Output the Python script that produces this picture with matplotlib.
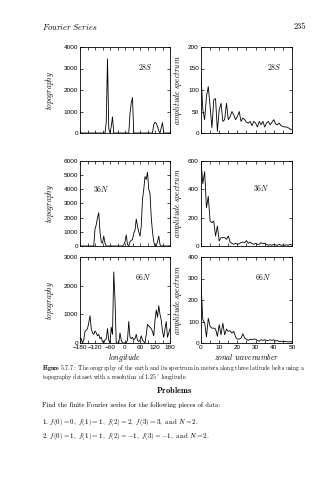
import numpy as np
import matplotlib
matplotlib.use("Agg")
import matplotlib.pyplot as plt

plt.rcParams['mathtext.fontset'] = 'cm'
plt.rcParams['axes.unicode_minus'] = True

W, H = 335, 480

# longitudes every 5 degrees, wavenumbers 0..50
lon = np.arange(-180, 185, 5)
wave = np.arange(0, 51)

topo_28s = [0] * 21 + [500, 3450, 200, 0, 300, 750, 0] + [0] * 11 + \
    [0, 900, 1400, 1650, 0] + [0] * 15 + \
    [400, 500, 450, 300, 100, 0, 250, 480, 0] + [0] * 5

topo_36n = [0] * 12 + [1200, 1500, 2000, 2350, 1000, 300, 200, 700, 200, 0] + [0] * 13 + \
    [100, 300, 780, 100, 0, 300, 400, 450, 900, 1100, 1900, 1400, 1000, 700,
     1400, 3300, 4000, 4900, 4700, 5200, 4000, 3700, 2000, 1000, 300, 0, 0, 300, 700, 100] + [0] * 8

topo_66n = [200, 150, 0, 100, 400, 450, 500, 700, 950, 500, 350, 300, 420, 350, 250, 300,
            150, 200, 50, 0, 100, 150, 500, 100, 0, 550, 300, 2480, 1500, 0, 0, 0, 350, 100,
            0, 0, 0, 0, 100, 750, 200, 150, 200, 100, 150, 300, 100, 50, 100, 250, 100, 50,
            0, 300, 650, 600, 550, 500, 400, 250, 800, 1150, 900, 1300, 1000, 800, 400, 200,
            500, 750, 200, 350, 500]

spec_28s = [135, 54, 31, 85, 108, 62, 12, 77, 80, 4, 54, 69, 27, 31, 69, 31, 38, 50, 42, 31,
            38, 50, 27, 35, 31, 25, 23, 27, 17, 27, 23, 14, 27, 19, 27, 14, 23, 27, 19, 25,
            31, 21, 19, 23, 17, 15, 14, 14, 12, 9, 8]

spec_36n = [600, 440, 525, 270, 350, 176, 165, 176, 70, 141, 35, 59, 59, 59, 47, 70, 28, 19,
            12, 19, 12, 16, 24, 28, 24, 38, 19, 28, 16, 12, 19, 12, 12, 24, 16, 19, 12, 5, 9,
            5, 12, 7, 5, 12, 5, 7, 5, 9, 5, 12, 5]

spec_66n = [280, 108, 95, 28, 115, 77, 69, 69, 65, 31, 85, 38, 92, 38, 65, 54, 57, 46, 54, 28,
            18, 18, 23, 43, 23, 18, 12, 18, 15, 18, 18, 12, 8, 15, 12, 15, 12, 12, 15, 12,
            15, 9, 12, 6, 9, 6, 8, 6, 5, 6, 5]

rows = [
    ('28S', topo_28s, spec_28s, 4000, 1000, 200, 50, (47, 133)),
    ('36N', topo_36n, spec_36n, 6000, 1000, 600, 200, (161, 246)),
    ('66N', topo_66n, spec_66n, 3000, 1000, 400, 100, (257, 343)),
]
lab_pos_left = {'28S': (0.72, 0.77), '36N': (0.23, 0.67), '66N': (0.70, 0.77)}
lab_pos_right = {'28S': (0.81, 0.77), '36N': (0.66, 0.68), '66N': (0.68, 0.77)}

tickfont = dict(family='Liberation Sans', size=4.6)

fig = plt.figure(figsize=(W / 100, H / 100), dpi=100)


def px_axes(x0, x1, y0, y1):
    return fig.add_axes([x0 / W, 1 - y1 / H, (x1 - x0) / W, (y1 - y0) / H])


def style(ax):
    for s in ax.spines.values():
        s.set_linewidth(0.6)
    ax.tick_params(direction='in', length=2.2, width=0.5, top=True, right=True, pad=1.5)
    for t in ax.get_xticklabels() + ax.get_yticklabels():
        t.set_fontfamily(tickfont['family'])
        t.set_fontsize(tickfont['size'])


for i, (name, topo, spec, tmax, tstep, smax, sstep, (y0, y1)) in enumerate(rows):
    last = i == len(rows) - 1

    ax = px_axes(80, 170, y0, y1)
    ax.plot(lon, topo, color='black', lw=0.6)
    ax.set_xlim(-180, 180)
    ax.set_ylim(0, tmax)
    ax.set_xticks(np.arange(-180, 181, 30))
    ax.set_xticklabels(['\u2212180', '', '\u2212120', '', '\u221260', '', '0', '', '60', '', '120', '', '180']
                       if last else [])
    ax.set_yticks(np.arange(0, tmax + 1, tstep))
    style(ax)
    ax.set_ylabel(r'$\mathit{topography}$', fontsize=5.5, labelpad=5)
    ax.text(*lab_pos_left[name], r'$\mathit{%s}$' % name, transform=ax.transAxes,
            fontsize=5.5, ha='center', va='center')
    if last:
        ax.set_xlabel(r'$\mathit{longitude}$', fontsize=5.5, labelpad=1.5)

    ax2 = px_axes(201, 292, y0, y1)
    ax2.plot(wave, spec, color='black', lw=0.6)
    ax2.set_xlim(0, 50)
    ax2.set_ylim(0, smax)
    ax2.set_xticks(np.arange(0, 51, 5))
    ax2.set_xticklabels(['0', '', '10', '', '20', '', '30', '', '40', '', '50'] if last else [])
    ax2.set_yticks(np.arange(0, smax + 1, sstep))
    style(ax2)
    ax2.set_ylabel(r'$\mathit{amplitude\ spectrum}$', fontsize=5.5, labelpad=3)
    ax2.text(*lab_pos_right[name], r'$\mathit{%s}$' % name, transform=ax2.transAxes,
             fontsize=5.5, ha='center', va='center')
    if last:
        ax2.set_xlabel(r'$\mathit{zonal\ wavenumber}$', fontsize=5.5, labelpad=1.5)


def ptext(x, y, s, **kw):
    kw.setdefault('family', 'cmr10')
    kw.setdefault('fontsize', 5.5)
    kw.setdefault('va', 'center')
    fig.text(x / W, 1 - y / H, s, **kw)


# page header
ptext(42, 27, r'$\mathit{Fourier\ Series}$', fontsize=6)
ptext(306, 27, '235', ha='right', fontsize=6)

# caption
ptext(42, 368, r'$\mathbf{Figure\ 5.7.7{:}}$ The orography of the earth and its spectrum in meters '
      'along three latitude belts using a', fontsize=4.2)
ptext(42, 377, r'topography dataset with a resolution of $1.25^\circ$ longitude.', fontsize=4.2)

# problems
ptext(174, 390, r'$\mathbf{Problems}$', ha='center', fontsize=6)
ptext(42, 405, 'Find the finite Fourier series for the following pieces of data:', fontsize=4.8)
ptext(42, 422, r'1. $f(0)=0,\ f(1)=1,\ f(2)=2,\ f(3)=3,$ and $N=2.$', fontsize=5.0)
ptext(42, 437, r'2. $f(0)=1,\ f(1)=1,\ f(2)=-1,\ f(3)=-1,$ and $N=2.$', fontsize=5.0)

fig.savefig('out.png', dpi=100)
